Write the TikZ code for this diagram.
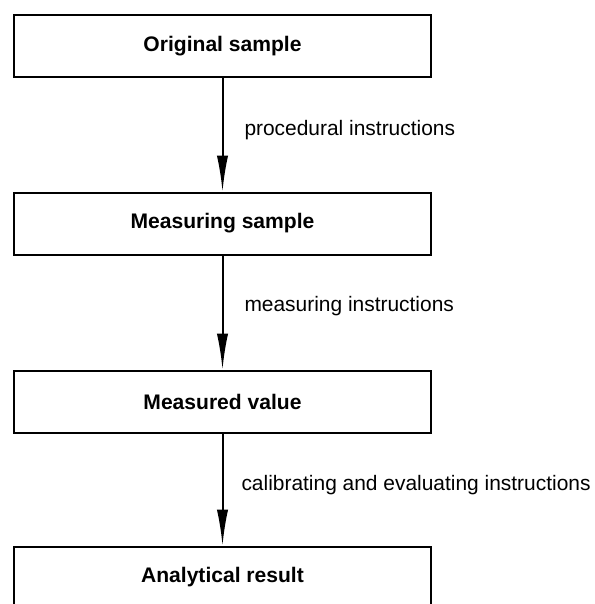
\documentclass[tikz,border=0pt]{standalone}
\usepackage{fontspec}
\setmainfont{Liberation Sans}
\usetikzlibrary{arrows.meta,positioning}
\tikzset{every picture/.style={line width=0.75pt}}
\tikzset{
	stage/.style={draw, line width=1.5pt, minimum width=312.75pt, minimum height=46.5pt, inner sep=0pt, font=\fontsize{15.8}{19}\selectfont\bfseries},
	instr/.style={anchor=west, inner sep=0pt, font=\fontsize{15.7}{19}\selectfont},
	flow/.style={line width=1.5pt, -{Latex[length=27pt,width=8.5pt]}}}

\begin{document}
\begin{tikzpicture}[x=0.75pt,y=0.75pt,yscale=-1,xscale=1]
	\useasboundingbox (0,0) rectangle (594,604);
	\clip (0,0) rectangle (594,604);

	%Shape: Rectangle [id:orig] 
	\node[stage] (orig) at (222.5,46) {Original sample};
	%Shape: Rectangle [id:meas] 
	\node[stage] (meas) at (222.5,223.5) {Measuring sample};
	%Shape: Rectangle [id:value] 
	\node[stage] (value) at (222.5,401.5) {Measured value};
	%Shape: Rectangle [id:result] 
	\node[stage] (result) at (222.5,577.5) {Analytical result};

	%Straight Lines [id:flow1] 
	\draw[flow] (orig) -- (meas);
	%Straight Lines [id:flow2] 
	\draw[flow] (meas) -- (value);
	%Straight Lines [id:flow3] 
	\draw[flow] (value) -- (result);

	% Text Node
	\node[instr] (proc) at (244,130) {procedural instructions};
	% Text Node
	\node[instr] (measinstr) at (244,306) {measuring instructions};
	% Text Node
	\node[instr] (calib) at (241,485) {calibrating and evaluating instructions};

\end{tikzpicture}
\end{document}
